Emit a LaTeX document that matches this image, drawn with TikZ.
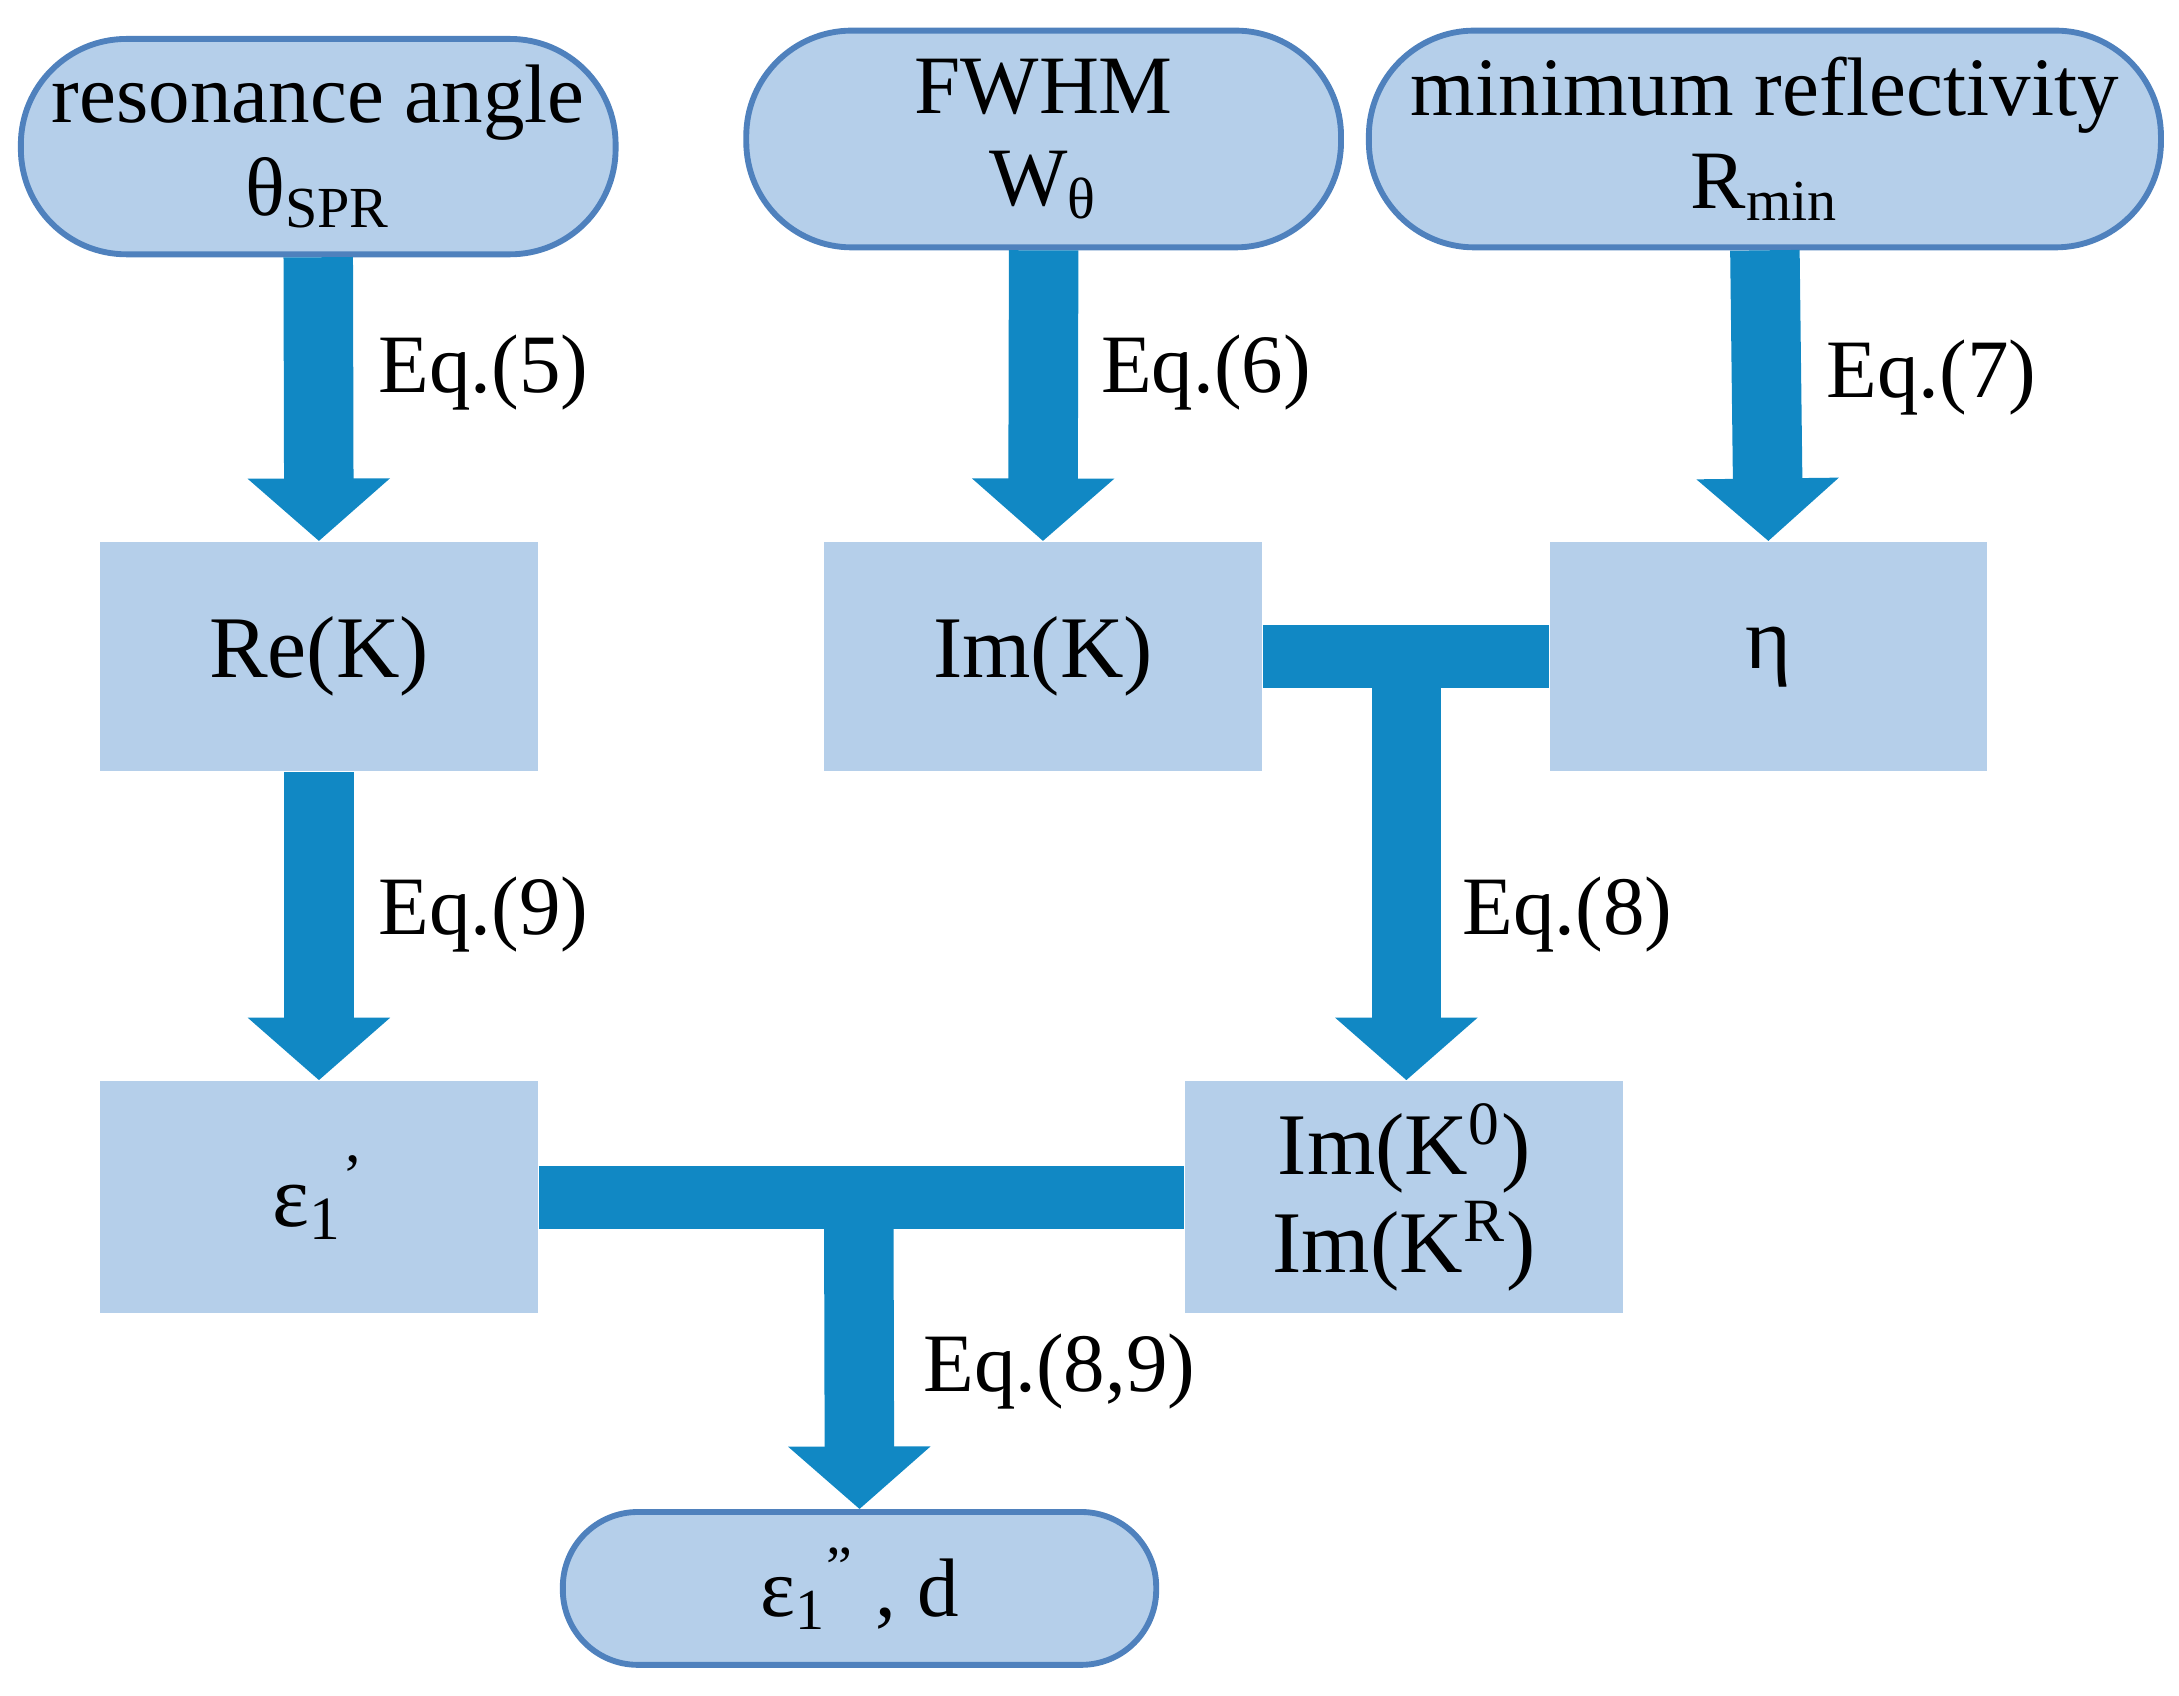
\documentclass[tikz,border=0pt]{standalone}
\usepackage{fontspec}
\setmainfont{Liberation Serif}
\usetikzlibrary{arrows.meta}
\definecolor{fillb}{HTML}{B5CFEA}
\definecolor{edgeb}{HTML}{4F81BD}
\definecolor{arrb}{HTML}{1188C4}
\begin{document}
\begin{tikzpicture}[
  stad/.style={draw=edgeb,line width=1.2pt,fill=fillb,rounded corners=0.76cm,align=center,font=\fontsize{17}{19}\selectfont,inner sep=0pt},
  box/.style={fill=fillb,minimum width=3.15cm,minimum height=1.65cm,align=center,font=\fontsize{18}{20}\selectfont,inner sep=0pt},
  arr/.style={draw=arrb,line width=0.5cm,-{Triangle[width=1cm,length=0.45cm]}},
  bar/.style={draw=arrb,line width=0.45cm},
  lab/.style={font=\fontsize{17}{19}\selectfont,anchor=west}
]
\useasboundingbox (0,0) rectangle (15.68,-12.20);
\node[stad,minimum width=4.28cm,minimum height=1.55cm] (s1) at (2.29,-1.055) {resonance angle\\θ\textsubscript{SPR}};
\node[stad,minimum width=4.28cm,minimum height=1.56cm] (s2) at (7.51,-1.00) {FWHM\\W\textsubscript{θ}};
\node[stad,minimum width=5.70cm,minimum height=1.56cm] (s3) at (12.70,-1.00) {minimum reflectivity\\R\textsubscript{min}};
\node[box] (rek) at (2.295,-4.725) {Re(K)};
\node[box] (imk) at (7.505,-4.725) {Im(K)};
\node[box] (eta) at (12.725,-4.725) {η};
\node[box,minimum height=1.67cm] (eps) at (2.295,-8.615) {ε\textsubscript{1}\textsuperscript{'}};
\node[box,minimum height=1.67cm] (imk0) at (10.105,-8.615) {Im(K\textsuperscript{0})\\Im(K\textsuperscript{R})};
\node[stad,minimum width=4.27cm,minimum height=1.10cm,rounded corners=0.54cm] (res) at (6.185,-11.43) {ε\textsubscript{1}\textsuperscript{"}~, d};
\draw[arr] (s1.south) -- (rek.north);
\draw[arr] (s2.south) -- (imk.north);
\draw[arr] (s3.south) -- (eta.north);
\draw[arr] (rek.south) -- (eps.north);
\draw[bar] (imk.east) -- (eta.west);
\coordinate (m1) at (10.12,-4.95);
\draw[arr] (m1) -- (m1 |- imk0.north);
\draw[bar] (eps.east) -- (imk0.west);
\coordinate (m2) at (6.18,-8.84);
\draw[arr] (m2) -- (res.north);
\node[lab] at (2.60,-2.68) {Eq.(5)};
\node[lab] at (7.80,-2.68) {Eq.(6)};
\node[lab] at (13.02,-2.72) {Eq.(7)};
\node[lab] at (2.60,-6.58) {Eq.(9)};
\node[lab] at (10.40,-6.58) {Eq.(8)};
\node[lab] at (6.52,-9.87) {Eq.(8,9)};
\end{tikzpicture}
\end{document}
